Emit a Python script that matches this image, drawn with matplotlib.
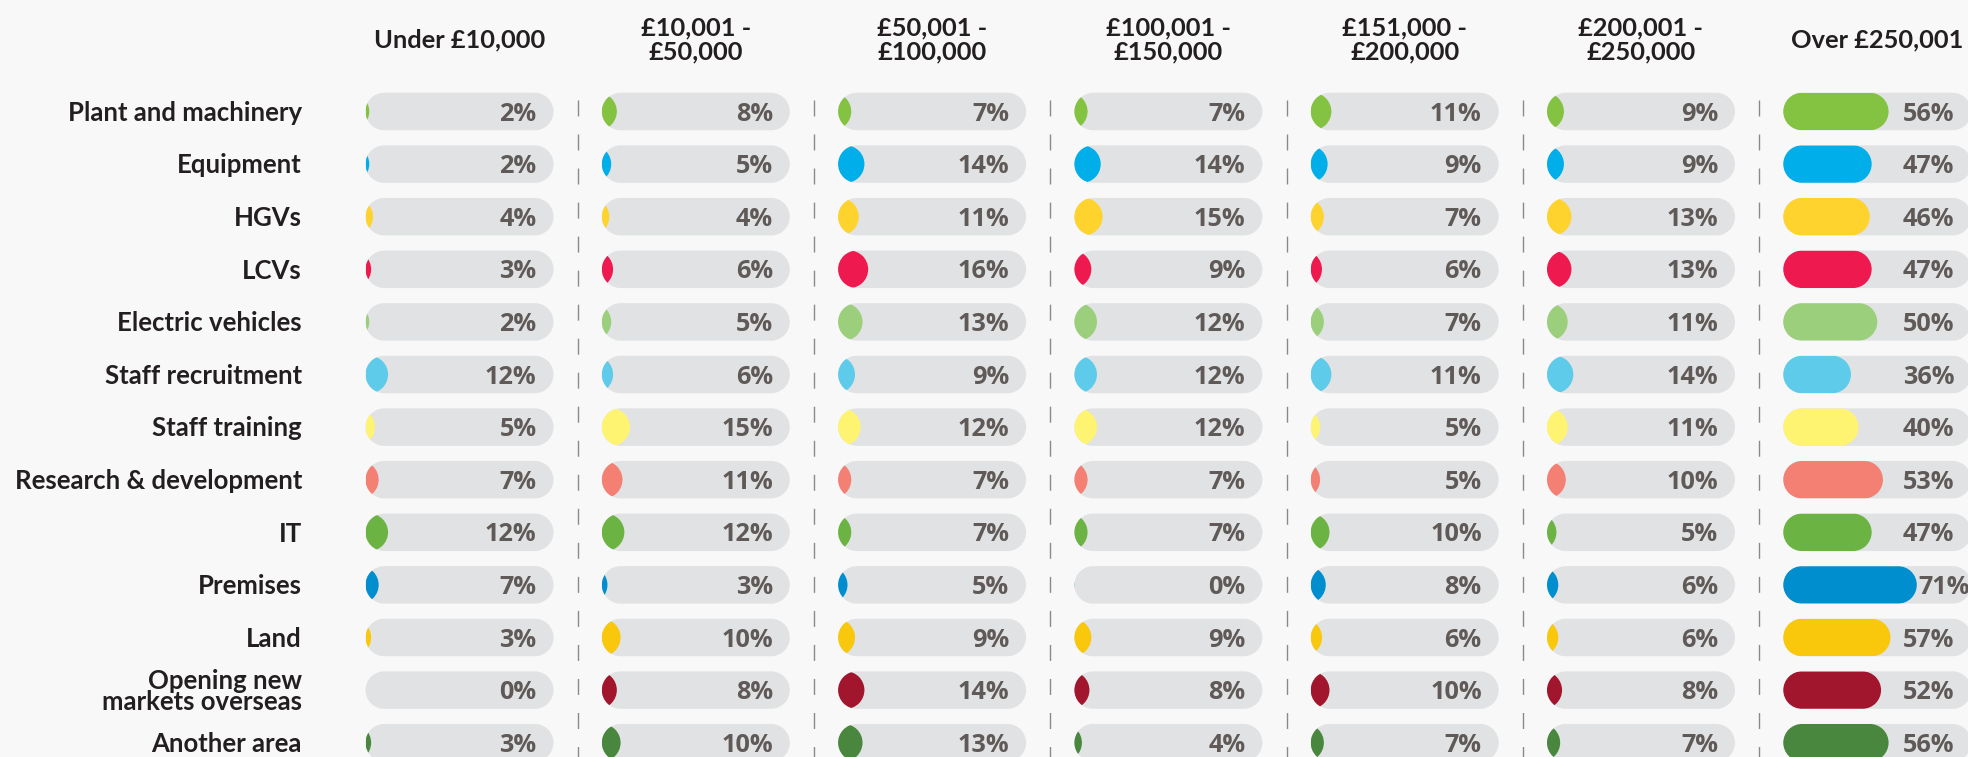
import numpy as np
import matplotlib
matplotlib.use('Agg')
import matplotlib.pyplot as plt
from matplotlib.path import Path
from matplotlib.patches import PathPatch
from matplotlib.lines import Line2D
from matplotlib.transforms import IdentityTransform

plt.rcParams['font.family'] = ['Lato', 'DejaVu Sans']
plt.rcParams['lines.scale_dashes'] = False

# --- data ---
categories = ['Plant and machinery', 'Equipment', 'HGVs', 'LCVs', 'Electric vehicles',
              'Staff recruitment', 'Staff training', 'Research & development', 'IT',
              'Premises', 'Land', 'Opening new\nmarkets overseas', 'Another area']

bands = ['Under £10,000', '£10,001 -\n£50,000', '£50,001 -\n£100,000',
         '£100,001 -\n£150,000', '£151,000 -\n£200,000', '£200,001 -\n£250,000',
         'Over £250,001']

under_10k = [2, 2, 4, 3, 2, 12, 5, 7, 12, 7, 3, 0, 3]
k10_50 = [8, 5, 4, 6, 5, 6, 15, 11, 12, 3, 10, 8, 10]
k50_100 = [7, 14, 11, 16, 13, 9, 12, 7, 7, 5, 9, 14, 13]
k100_150 = [7, 14, 15, 9, 12, 12, 12, 7, 7, 0, 9, 8, 4]
k151_200 = [11, 9, 7, 6, 7, 11, 5, 5, 10, 8, 6, 10, 7]
k200_250 = [9, 9, 13, 13, 11, 14, 11, 10, 5, 6, 6, 8, 7]
over_250k = [56, 47, 46, 47, 50, 36, 40, 53, 47, 71, 57, 52, 56]

series = [under_10k, k10_50, k50_100, k100_150, k151_200, k200_250, over_250k]

colours = ['#84c341', '#00aeea', '#ffd32e', '#ee1a4f', '#9ccf7b', '#5ecbeb', '#fff471',
           '#f47f73', '#6bb444', '#008ece', '#f9c70b', '#a1152d', '#48873d']

BG = '#f8f8f8'
TRACK = '#e1e2e3'
PCT_COL = '#5f5957'
LABEL_COL = '#231f20'
PCT_FONT = ['Open Sans', 'DejaVu Sans']

# --- layout (pixels) ---
W, H, DPI = 1968, 757, 100
col_left = 365.5
col_pitch = 236.3
track_w = 188.0
track_h = 37.5
row_h = 52.6
first_row = 111.5

fig = plt.figure(figsize=(W / DPI, H / DPI), dpi=DPI, facecolor=BG)

n = len(categories)
top_px = first_row - row_h / 2
bottom_px = top_px + n * row_h
px_x = track_w / 100.0   # pixels per percent
asp = px_x / row_h       # y units per x unit for equal pixel length
rad = track_h / 2 / px_x  # capsule radius in percent units


def capsule(x0, x1, yc):
    right = Path.arc(-90, 90)
    left = Path.arc(90, 270)
    v = np.concatenate([right.vertices * rad + [x1 - rad, 0],
                        left.vertices * rad + [x0 + rad, 0],
                        [[0, 0]]])
    codes = np.concatenate([right.codes, left.codes, [Path.CLOSEPOLY]])
    codes[len(right.codes)] = Path.LINETO
    v[:, 1] = v[:, 1] * asp + yc
    v[-1] = v[0]
    return Path(v, codes)


def text_lines(ax, s, xy, dx, dy_center, size, color, ha, spacing, cap, family=None):
    lines = s.split('\n')
    k = len(lines)
    for idx, line in enumerate(lines):
        dy = dy_center - cap / 2 + (k - 1) / 2 * spacing - idx * spacing
        ax.annotate(line, xy=xy, xytext=(dx, dy), textcoords='offset pixels',
                    ha=ha, va='baseline', fontsize=size, fontweight='bold',
                    color=color, annotation_clip=False, family=family)


for j, (band, vals) in enumerate(zip(bands, series)):
    left = col_left + j * col_pitch
    ax = fig.add_axes([left / W, (H - bottom_px) / H, track_w / W, n * row_h / H])
    ax.set_xlim(0, 100)
    ax.set_ylim(n - 0.5, -0.5)
    ax.axis('off')

    for i, v in enumerate(vals):
        track = PathPatch(capsule(0, 100, i), fc=TRACK, ec='none', clip_on=False)
        ax.add_patch(track)
        bar = PathPatch(capsule(v - 100, v, i), fc=colours[i], ec='none')
        ax.add_patch(bar)
        bar.set_clip_path(track)

        if v * px_x > track_w - 75:
            text_lines(ax, f'{v}%', (v, i), 2, 0, 18.2, PCT_COL, 'left', 24, 18.3, PCT_FONT)
        else:
            text_lines(ax, f'{v}%', (100, i), -17, 0, 18.2, PCT_COL, 'right', 24, 18.3, PCT_FONT)

    # column header
    text_lines(ax, band, (50, 0), 0, first_row - 38.5, 18.3, LABEL_COL, 'center', 24, 18)

    if j == 0:
        for i, cat in enumerate(categories):
            text_lines(ax, cat, (0, i), -63.5, 0, 18.5, LABEL_COL, 'right', 21, 18.5)

# dashed separators between the columns
for j in range(1, len(bands)):
    xs = col_left + j * col_pitch - (col_pitch - track_w) / 2
    fig.add_artist(Line2D([xs, xs], [H - 100, 0], transform=IdentityTransform(),
                          color='#8a8a8a', lw=1.0, linestyle=(0, (11.5, 13))))

fig.savefig('out.png', dpi=DPI, facecolor=BG)
